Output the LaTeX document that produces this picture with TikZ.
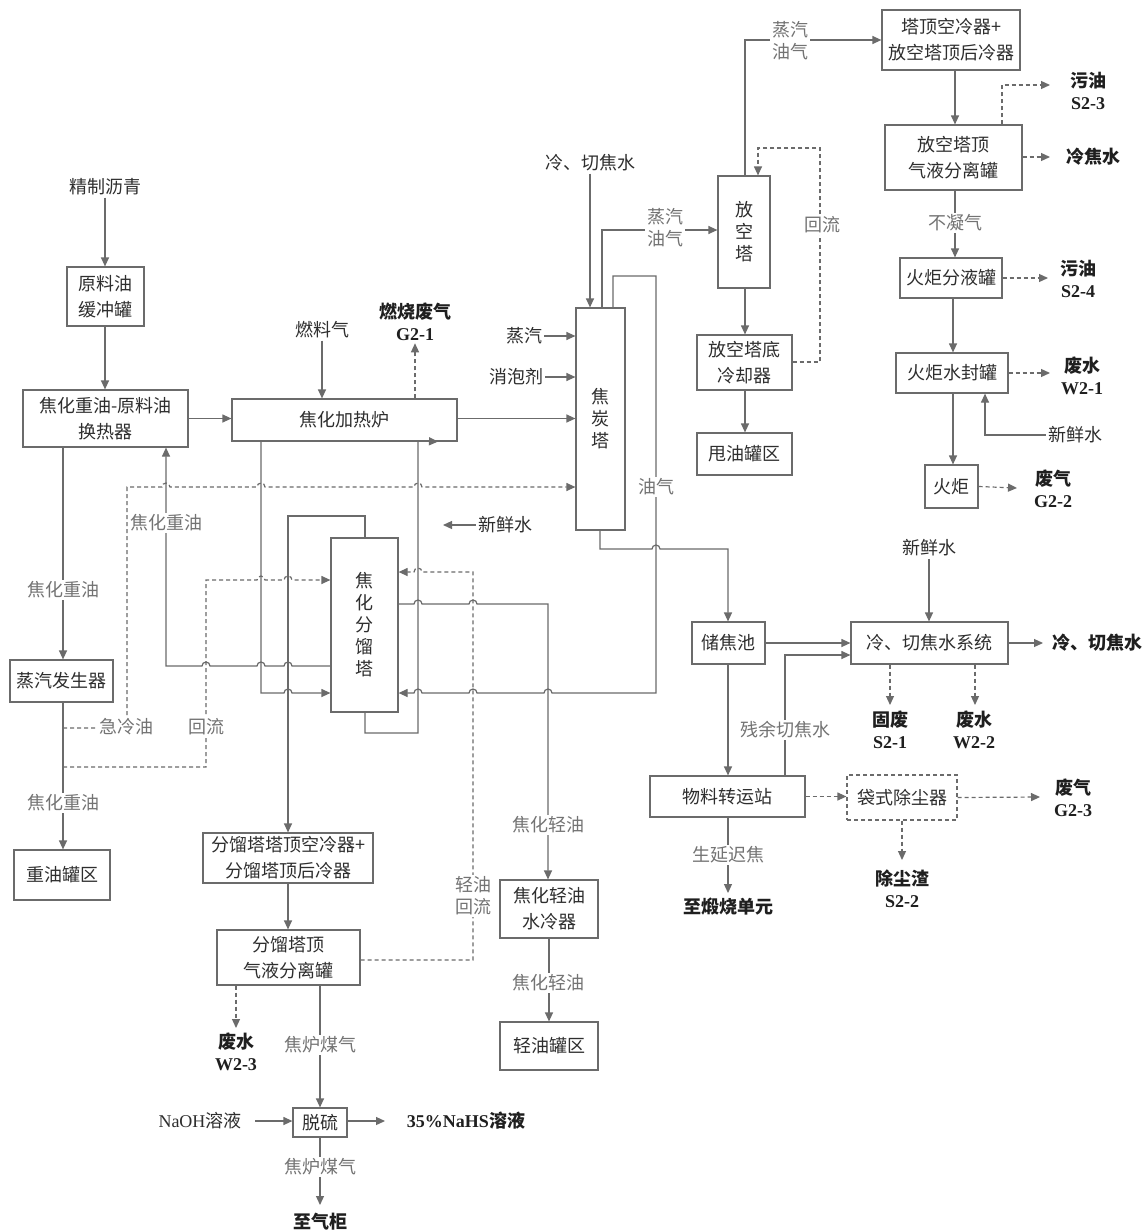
\documentclass[tikz,border=0pt]{standalone}
\usepackage{fontspec}
\setmainfont{Noto Sans CJK SC}
\newfontfamily\ltn{Liberation Serif}
\usetikzlibrary{arrows.meta}
\definecolor{lc}{gray}{0.42}
\definecolor{tc}{gray}{0.18}
\definecolor{gc}{gray}{0.45}
\definecolor{oc}{gray}{0.12}
\newcommand\fs{\fontsize{9pt}{13pt}\selectfont}
\newcommand\fv{\fontsize{9pt}{11pt}\selectfont}
\newcommand\cd[1]{{\ltn\bfseries #1}}
\tikzset{
  box/.style={draw=lc,line width=0.6pt,inner sep=0pt,align=center,text=tc,font=\fs},
  dbox/.style={box,dash pattern=on 2pt off 1.5pt},
  vbox/.style={box,font=\fv},
  ln/.style={draw=lc,line width=0.6pt},
  arr/.style={ln,-{Triangle[length=4.5pt,width=4pt]}},
  dl/.style={ln,dash pattern=on 2pt off 1.5pt},
  da/.style={dl,-{Triangle[length=4.5pt,width=4pt]}},
  lb/.style={fill=white,text=gc,inner sep=1pt,align=center,font=\fv},
  tx/.style={text=tc,inner sep=1pt,align=center,font=\fv},
  ot/.style={text=oc,inner sep=1pt,align=center,font=\fv\bfseries},
}
\newcommand\bR[2]{-- ({#1-4},#2) arc[start angle=180,end angle=0,radius=2pt]}
\newcommand\bL[2]{-- ({#1+4},#2) arc[start angle=0,end angle=180,radius=2pt]}
\newcommand\bx[7][box]{\node[#1,minimum width={(#5-#3)*0.5pt},minimum height={(#6-#4)*0.5pt}] (#2) at ({(#3+#5)/2},{(#4+#6)/2}) {#7};}
\begin{document}
\begin{tikzpicture}[x=0.5pt,y=-0.5pt]
\useasboundingbox[fill=white] (0,0) rectangle (1147,1232);
% boxes
\bx{feed}{67}{267}{144}{326}{原料油\\缓冲罐}
\bx{hx}{23}{390}{188}{447}{焦化重油-原料油\\换热器}
\bx{heater}{232}{399}{457}{441}{焦化加热炉}
\bx{sg}{10}{660}{113}{702}{蒸汽发生器}
\bx{hot}{14}{850}{110}{900}{重油罐区}
\bx[vbox]{frac}{331}{538}{398}{712}{焦\\化\\分\\馏\\塔}
\bx[vbox]{coke}{576}{308}{625}{530}{焦\\炭\\塔}
\bx[vbox]{vent}{718}{176}{770}{288}{放\\空\\塔}
\bx{vbc}{697}{335}{792}{390}{放空塔底\\冷却器}
\bx{slop}{697}{433}{792}{475}{甩油罐区}
\bx{topcool}{882}{10}{1020}{70}{塔顶空冷器+\\放空塔顶后冷器}
\bx{vsep}{885}{125}{1022}{190}{放空塔顶\\气液分离罐}
\bx{fks}{900}{258}{1002}{298}{火炬分液罐}
\bx{fws}{896}{353}{1008}{393}{火炬水封罐}
\bx{flare}{925}{465}{978}{508}{火炬}
\bx{cpit}{692}{622}{765}{664}{储焦池}
\bx{cws}{851}{622}{1008}{664}{冷、切焦水系统}
\bx{mts}{650}{776}{805}{817}{物料转运站}
\bx[dbox]{bag}{847}{775}{957}{820}{袋式除尘器}
\bx{fcool}{203}{833}{373}{883}{分馏塔塔顶空冷器+\\分馏塔顶后冷器}
\bx{fsep}{217}{930}{360}{985}{分馏塔顶\\气液分离罐}
\bx{desulf}{293}{1108}{347}{1137}{脱硫}
\bx{locool}{500}{880}{598}{938}{焦化轻油\\水冷器}
\bx{lotank}{500}{1022}{598}{1070}{轻油罐区}
% free texts
\node[tx] (tpitch) at (105,187) {精制沥青};
\node[tx] (tfuel) at (322,330) {燃料气};
\node[ot] (tg21) at (415,322) {燃烧废气\\\cd{G2-1}};
\node[tx] (tcool) at (590,163) {冷、切焦水};
\node[tx] (tsteam) at (524,336) {蒸汽};
\node[tx] (tdefoam) at (516,377) {消泡剂};
\node[tx] (tfw1) at (505,525) {新鲜水};
\node[tx] (tfw2) at (929,548) {新鲜水};
\node[tx] (tfw3) at (1075,435) {新鲜水};
\node[ot] (ts23) at (1088,91) {污油\\\cd{S2-3}};
\node[ot] (tcw) at (1093,157) {冷焦水};
\node[ot] (ts24) at (1078,279) {污油\\\cd{S2-4}};
\node[ot] (tw21) at (1082,376) {废水\\\cd{W2-1}};
\node[ot] (tg22) at (1053,489) {废气\\\cd{G2-2}};
\node[ot] (tcwo) at (1097,643) {冷、切焦水};
\node[ot] (ts21) at (890,730) {固废\\\cd{S2-1}};
\node[ot] (tw22) at (974,730) {废水\\\cd{W2-2}};
\node[ot] (tg23) at (1073,798) {废气\\\cd{G2-3}};
\node[ot] (ts22) at (902,889) {除尘渣\\\cd{S2-2}};
\node[ot] (tcalc) at (728,907) {至煅烧单元};
\node[ot] (tw23) at (236,1052) {废水\\\cd{W2-3}};
\node[tx] (tnaoh) at (200,1121) {{\ltn NaOH}溶液};
\node[ot] (tnahs) at (466,1121) {\cd{35\%NaHS}溶液};
\node[ot] (tgas) at (320,1222) {至气柜};
% connectors
\draw[arr] (tpitch) -- (feed.north -| tpitch);
\draw[arr] (feed.south -| tpitch) -- (hx.north -| tpitch);
\draw[arr] (hx.east) -- (hx.east -| heater.west);
\draw[arr] (tfuel) -- (heater.north -| tfuel);
\draw[da] (heater.north -| tg21) -- (tg21.south);
\draw[arr] (heater.east |- hx.east) -- (coke.west |- hx.east);
\draw[arr] (hx.south -| 63,0) -- (sg.north -| 63,0);
\draw[arr] (sg.south -| 63,0) -- (hot.north -| 63,0);
\draw[da] (63,728) -- (127,728) -- (127,487) \bR{166}{487} \bR{261}{487} \bR{418}{487} -- (coke.west |- 0,487);
\draw[da] (63,767) -- (206,767) -- (206,580) \bR{261}{580} \bR{288}{580} -- (frac.west |- 0,580);
\draw[arr] (frac.west |- 0,666) \bL{288}{666} \bL{261}{666} \bL{206}{666} -- (166,666) -- (hx.south -| 166,0);
\draw[arr] (heater.south -| 261,0) -- (261,693) \bR{288}{693} -- (frac.west |- 0,693);
\draw[arr] (frac.north -| 365,0) -- (365,516) -- (288,516) -- (fcool.north -| 288,0);
\draw[arr] (frac.south -| 365,0) -- (365,733) -- (418,733) -- (418,441) -- (heater.south -| 438,0);
\draw[da] (fsep.east |- 0,960) -- (473,960) -- (473,572) \bL{418}{572} -- (frac.east |- 0,572);
\draw[arr] (frac.east |- 0,604) \bR{418}{604} \bR{473}{604} -- (548,604) -- (locool.north -| 548,0);
\draw[arr] (coke.north -| 613,0) -- (613,276) -- (656,276) -- (656,693) \bL{548}{693} \bL{473}{693} \bL{418}{693} -- (frac.east |- 0,693);
\draw[arr] (coke.south -| 600,0) -- (600,549) \bR{656}{549} -- (728,549) -- (cpit.north -| 728,0);
\draw[arr] (tcool) -- (coke.north -| tcool);
\draw[arr] (coke.north -| 602,0) -- (602,230) -- (vent.west |- 0,230);
\draw[arr] (tsteam) -- (coke.west |- tsteam);
\draw[arr] (tdefoam) -- (coke.west |- tdefoam);
\draw[arr] (vent.north -| 745,0) -- (745,40) -- (topcool.west |- 0,40);
\draw[arr] (vent.south -| 745,0) -- (vbc.north -| 745,0);
\draw[arr] (vbc.south -| 745,0) -- (slop.north -| 745,0);
\draw[da] (vbc.east |- 0,362) -- (820,362) -- (820,148) -- (758,148) -- (vent.north -| 758,0);
\draw[arr] (topcool.south -| 955,0) -- (vsep.north -| 955,0);
\draw[da] (vsep.north -| 1002,0) -- (1002,85) -- (1050,85);
\draw[da] (vsep.east |- 0,157) -- (1050,157);
\draw[arr] (vsep.south -| 955,0) -- (fks.north -| 955,0);
\draw[da] (fks.east) -- (1048,278);
\draw[arr] (fks.south -| 953,0) -- (fws.north -| 953,0);
\draw[da] (fws.east) -- (1050,373);
\draw[arr] (tfw3.west) -- (985,435) -- (fws.south -| 985,0);
\draw[arr] (fws.south -| 953,0) -- (flare.north -| 953,0);
\draw[da] (flare.east) -- (1017,488);
\draw[arr] (tfw1.west) -- (443,525);
\draw[arr] (cpit.east) -- (cws.west |- cpit.east);
\draw[arr] (mts.north -| 785,0) -- (785,655) -- (cws.west |- 0,655);
\draw[arr] (tfw2) -- (cws.north -| tfw2);
\draw[arr] (cws.east) -- (1043,643);
\draw[da] (cws.south -| 890,0) -- (890,705);
\draw[da] (cws.south -| 975,0) -- (975,705);
\draw[arr] (cpit.south -| 728,0) -- (mts.north -| 728,0);
\draw[da] (mts.east) -- (bag.west |- mts.east);
\draw[da] (bag.east) -- (1040,797);
\draw[da] (bag.south -| 902,0) -- (902,860);
\draw[arr] (mts.south -| 728,0) -- (728,893);
\draw[arr] (fcool.south -| 288,0) -- (fsep.north -| 288,0);
\draw[da] (fsep.south -| 236,0) -- (236,1028);
\draw[arr] (fsep.south -| 320,0) -- (desulf.north -| 320,0);
\draw[arr] (255,1121) -- (desulf.west |- 0,1121);
\draw[arr] (desulf.east |- 0,1121) -- (385,1121);
\draw[arr] (desulf.south -| 320,0) -- (320,1205);
\draw[arr] (locool) -- (lotank);
% labels on lines
\node[lb] at (63,590) {焦化重油};
\node[lb] at (166,523) {焦化重油};
\node[lb] at (63,803) {焦化重油};
\node[lb] at (126,727) {急冷油};
\node[lb] at (206,727) {回流};
\node[lb] at (665,228) {蒸汽\\油气};
\node[lb] at (790,41) {蒸汽\\油气};
\node[lb] at (822,225) {回流};
\node[lb] at (656,487) {油气};
\node[lb] at (955,223) {不凝气};
\node[lb] at (785,730) {残余切焦水};
\node[lb] at (728,855) {生延迟焦};
\node[lb] at (548,825) {焦化轻油};
\node[lb] at (548,983) {焦化轻油};
\node[lb] at (473,896) {轻油\\回流};
\node[lb] at (320,1045) {焦炉煤气};
\node[lb] at (320,1167) {焦炉煤气};
\end{tikzpicture}
\end{document}
